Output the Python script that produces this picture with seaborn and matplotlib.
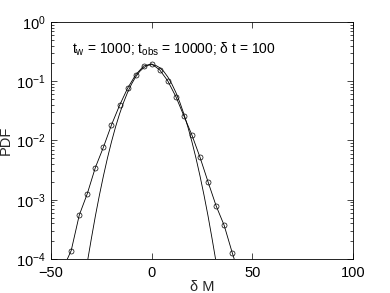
import matplotlib
matplotlib.use("Agg")
import matplotlib.pyplot as plt
import seaborn as sns
import pandas as pd
import numpy as np
from matplotlib.ticker import LogLocator, FixedLocator, NullFormatter

# measured PDF (circles joined by a line)
dm_data = [-44, -40, -36, -32, -28, -24, -20, -16, -12, -8, -4, 0,
           4, 8, 12, 16, 20, 24, 28, 32, 36, 40, 44]
pdf_data = [7.0e-5, 1.39e-4, 5.5e-4, 1.27e-3, 3.5e-3, 7.7e-3, 0.0183, 0.039,
            0.076, 0.128, 0.181, 0.196, 0.155, 0.101, 0.055, 0.026, 0.0123,
            0.0052, 0.0020, 0.00079, 0.00037, 0.000128, 4.7e-5]

# gaussian curve
dm_gauss = [-34, -32, -30, -28, -26, -24, -22, -20, -18, -16, -14, -12, -10,
            -8, -6, -4, -2, 0, 2, 4, 6, 8, 10, 12, 14, 16, 18, 20, 22, 24,
            26, 28, 30, 32, 34]
pdf_gauss = [3.2e-5, 8.8e-5, 2.2e-4, 5.3e-4, 1.19e-3, 2.52e-3, 5.04e-3,
             9.46e-3, 0.0168, 0.0279, 0.0438, 0.0647, 0.0899, 0.118, 0.146,
             0.169, 0.185, 0.191, 0.185, 0.169, 0.146, 0.118, 0.0899, 0.0647,
             0.0438, 0.0279, 0.0168, 9.46e-3, 5.04e-3, 2.52e-3, 1.19e-3,
             5.3e-4, 2.2e-4, 8.8e-5, 3.2e-5]

x_ticks = [-50, 0, 50, 100]
title_text = "t$_\\mathrm{w}$ = 1000; t$_\\mathrm{obs}$ = 10000; δ t = 100"

sns.set_style("white")
plt.rcParams["font.family"] = ["Liberation Sans", "DejaVu Sans"]
plt.rcParams["mathtext.fontset"] = "custom"
plt.rcParams["mathtext.rm"] = "Liberation Sans"
plt.rcParams["mathtext.it"] = "Liberation Sans"
plt.rcParams["mathtext.bf"] = "Liberation Sans"

fig = plt.figure(figsize=(3.9, 2.93), dpi=100)
ax = fig.add_axes([0.131, 0.116, 0.774, 0.809])

df_data = pd.DataFrame({"dM": dm_data, "pdf": pdf_data})
df_gauss = pd.DataFrame({"dM": dm_gauss, "pdf": pdf_gauss})

sns.lineplot(data=df_gauss, x="dM", y="pdf", ax=ax, color="black",
             linewidth=0.6, sort=False)
sns.lineplot(data=df_data, x="dM", y="pdf", ax=ax, color="black",
             linewidth=0.6, marker="o", markersize=3.6,
             markerfacecolor="none", markeredgecolor="black",
             markeredgewidth=0.5, sort=False)

ax.set_yscale("log")
ax.set_xlim(-50, 100)
ax.set_ylim(1e-4, 1)
ax.xaxis.set_major_locator(FixedLocator(x_ticks))
ax.yaxis.set_major_locator(LogLocator(base=10, numticks=10))
ax.yaxis.set_minor_locator(LogLocator(base=10, subs=np.arange(2, 10), numticks=20))
ax.yaxis.set_minor_formatter(NullFormatter())

for s in ax.spines.values():
    s.set_visible(True)
    s.set_color("black")
    s.set_linewidth(0.6)

ax.tick_params(axis="both", which="both", direction="in", top=True,
               right=True, bottom=True, left=True, labelsize=10.5,
               colors="black", width=0.5)
ax.tick_params(axis="both", which="major", length=4)
ax.tick_params(axis="x", which="major", pad=5)
ax.tick_params(axis="y", which="major", pad=4)
ax.tick_params(axis="y", which="minor", length=2)

ax.set_xlabel("δ M", fontsize=10.5, labelpad=0)
ax.set_ylabel("PDF", fontsize=10.5, labelpad=2)
ax.text(0.07, 0.865, title_text, transform=ax.transAxes, fontsize=10,
        color="black", va="baseline")

fig.savefig("out.png", dpi=100)
